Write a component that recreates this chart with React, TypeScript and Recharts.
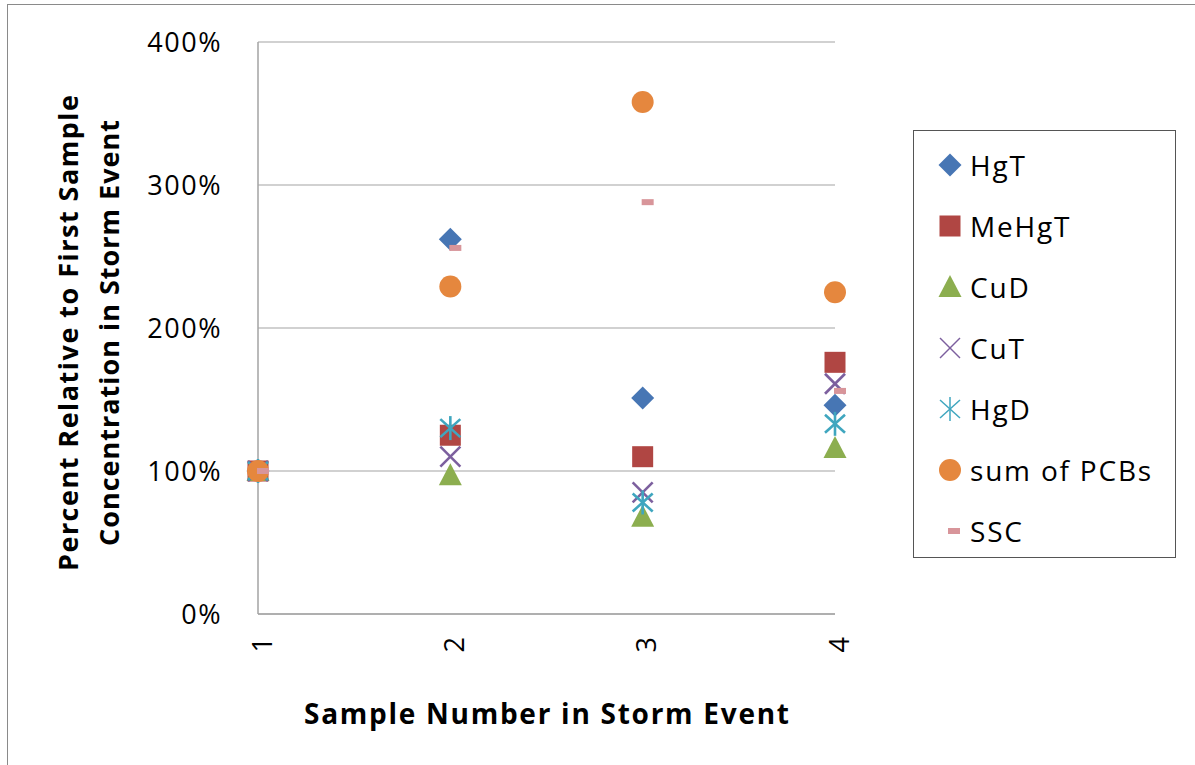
import React from "react";
import { ScatterChart, Scatter, XAxis, YAxis, CartesianGrid, Legend, Label } from "recharts";

// sample number in the storm event
const samples = [1, 2, 3, 4];
// values relative to the first sample (1 = 100%)
const hgT = [1, 2.62, 1.51, 1.46];
const meHgT = [1, 1.25, 1.1, 1.76];
const cuD = [1, 0.97, 0.68, 1.16];
const cuT = [1, 1.1, 0.85, 1.61];
const hgD = [1, 1.3, 0.78, 1.33];
const pcbs = [1, 2.29, 3.58, 2.25];
const ssc = [1, 2.56, 2.88, 1.56];
const yTicks = [0, 1, 2, 3, 4];

type Kind = "diamond" | "square" | "triangle" | "x" | "star" | "circle" | "dash";

const SERIES: { name: string; values: number[]; color: string; kind: Kind }[] = [
  { name: "HgT", values: hgT, color: "#4776b4", kind: "diamond" },
  { name: "MeHgT", values: meHgT, color: "#b04643", kind: "square" },
  { name: "CuD", values: cuD, color: "#8cae4f", kind: "triangle" },
  { name: "CuT", values: cuT, color: "#7c5f9e", kind: "x" },
  { name: "HgD", values: hgD, color: "#3fa6bf", kind: "star" },
  { name: "sum of PCBs", values: pcbs, color: "#e5873e", kind: "circle" },
  { name: "SSC", values: ssc, color: "#d8959a", kind: "dash" },
];

const FONT = "'Open Sans', 'Noto Sans', sans-serif";
const GRID = "#a3a3a3";

function marker(kind: Kind, color: string, cx: number, cy: number, thin = false) {
  const sw = thin ? 1.5 : 2.6;
  switch (kind) {
    case "diamond": {
      const r = 11.5;
      return <polygon points={`${cx},${cy - r} ${cx + r},${cy} ${cx},${cy + r} ${cx - r},${cy}`} fill={color} />;
    }
    case "square":
      return <rect x={cx - 10.5} y={cy - 10.5} width={21} height={21} fill={color} />;
    case "triangle":
      return <polygon points={`${cx},${cy - 12} ${cx + 11.5},${cy + 10} ${cx - 11.5},${cy + 10}`} fill={color} />;
    case "x":
      return (
        <g stroke={color} strokeWidth={sw}>
          <line x1={cx - 10} y1={cy - 10} x2={cx + 10} y2={cy + 10} />
          <line x1={cx - 10} y1={cy + 10} x2={cx + 10} y2={cy - 10} />
        </g>
      );
    case "star":
      return (
        <g stroke={color} strokeWidth={sw}>
          <line x1={cx - 10} y1={cy - 9} x2={cx + 10} y2={cy + 9} />
          <line x1={cx - 10} y1={cy + 9} x2={cx + 10} y2={cy - 9} />
          <line x1={cx} y1={cy - 12} x2={cx} y2={cy + 12} />
        </g>
      );
    case "circle":
      return <circle cx={cx} cy={cy} r={11} fill={color} />;
    case "dash":
      return <rect x={cx - 1} y={cy - 3} width={12} height={6} fill={color} />;
  }
}

function XTick(props: any) {
  const { x, y, payload } = props;
  return (
    <text
      x={x + 3}
      y={y}
      transform={`rotate(-90, ${x + 3}, ${y})`}
      textAnchor="end"
      dominantBaseline="central"
      fontFamily={FONT}
      fontSize={27}
      fill="#000"
    >
      {payload.value}
    </text>
  );
}

function YTitle() {
  const cy = 333;
  return (
    <g fontFamily={FONT} fontWeight={700} fontSize={27} fill="#000">
      <text x={67} y={cy} transform={`rotate(-90, 67, ${cy})`} textAnchor="middle" dominantBaseline="central" textLength={476} lengthAdjust="spacing">
        Percent Relative to First Sample
      </text>
      <text x={108} y={cy} transform={`rotate(-90, 108, ${cy})`} textAnchor="middle" dominantBaseline="central" textLength={426} lengthAdjust="spacing">
        Concentration in Storm Event
      </text>
    </g>
  );
}

function XTitle(props: any) {
  const vb = props.viewBox || { x: 258, width: 577 };
  const cx = vb.x + vb.width / 2;
  return (
    <text x={cx} y={713} textAnchor="middle" dominantBaseline="central" fontFamily={FONT} fontWeight={700} fontSize={28} fill="#000" textLength={485} lengthAdjust="spacing">
      Sample Number in Storm Event
    </text>
  );
}

function LegendBox(props: any) {
  const order = SERIES.map((s) => s.name);
  const payload: any[] = [...(props.payload || [])].sort(
    (a, b) => order.indexOf(a.value) - order.indexOf(b.value)
  );
  return (
    <svg width={263} height={428} style={{ display: "block" }}>
      <rect x={0.5} y={0.5} width={262} height={427} fill="#fff" stroke="#555" strokeWidth={1} />
      {payload.map((p, i) => {
        const s = SERIES.find((d) => d.name === p.value);
        if (!s) return null;
        const cy = 35 + i * 61;
        return (
          <g key={s.name}>
            {marker(s.kind, s.color, s.kind === "dash" ? 36 : 37, cy, true)}
            <text x={57} y={cy} dominantBaseline="central" fontFamily={FONT} fontSize={28} letterSpacing={1.8} fill="#000">
              {s.name}
            </text>
          </g>
        );
      })}
    </svg>
  );
}

export default function App() {
  return (
    <div style={{ position: "absolute", left: 0, top: 0, width: 1195, height: 765, overflow: "hidden", background: "#fff", fontFamily: FONT }}>
      <div style={{ position: "absolute", left: 7, top: 4, width: 1400, height: 1000, border: "1px solid #8a8a8a" }} />
      <div style={{ position: "absolute", left: 0, top: 0 }}>
        <ScatterChart width={1195} height={765} margin={{ top: 42, right: 360, bottom: 0, left: 0 }}>
          <CartesianGrid vertical={false} stroke={GRID} strokeWidth={1.2} />
          <XAxis
            type="number"
            dataKey="x"
            domain={[1, 4]}
            ticks={samples}
            interval={0}
            height={151}
            axisLine={{ stroke: GRID, strokeWidth: 1.5 }}
            tickLine={false}
            tickSize={0}
            tickMargin={23}
            tick={<XTick />}
          >
            <Label content={<XTitle />} />
          </XAxis>
          <YAxis
            type="number"
            dataKey="y"
            domain={[0, 4]}
            ticks={yTicks}
            interval={0}
            width={258}
            axisLine={{ stroke: GRID, strokeWidth: 1.5 }}
            tickLine={false}
            tickSize={0}
            tickMargin={36}
            tickFormatter={(v: number) => `${Math.round(v * 100)}%`}
            tick={{ fontFamily: FONT, fontSize: 27, fill: "#000", letterSpacing: 1.5 }}
          >
            <Label content={<YTitle />} />
          </YAxis>
          <Legend
            layout="vertical"
            align="center"
            verticalAlign="middle"
            content={<LegendBox />}
            wrapperStyle={{ left: 913, top: 130, width: 263, height: 428 }}
          />
          {SERIES.map((s) => (
            <Scatter
              key={s.name}
              name={s.name}
              data={samples.map((x, i) => ({ x, y: s.values[i] }))}
              fill={s.color}
              isAnimationActive={false}
              shape={(p: any) => marker(s.kind, s.color, p.cx, p.cy)}
            />
          ))}
        </ScatterChart>
      </div>
    </div>
  );
}
